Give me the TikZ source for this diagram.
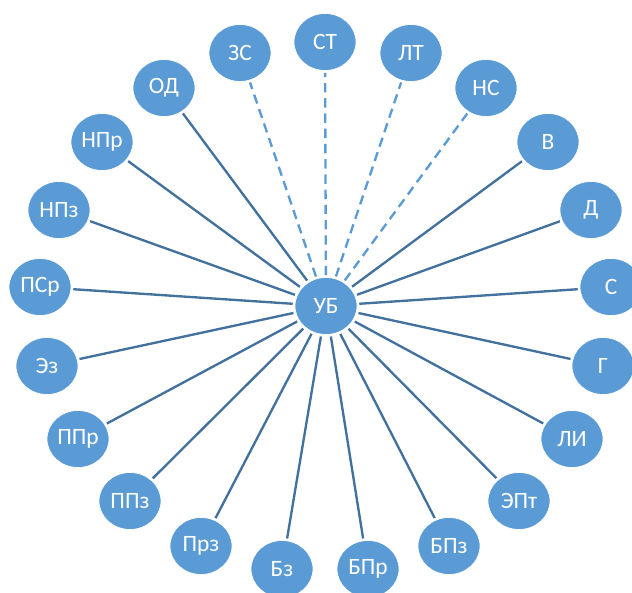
\documentclass[tikz,border=0pt]{standalone}
\usepackage{fontspec}
\setmainfont{Carlito}
\usepackage{tikz}
\usepackage{xcolor}
\usetikzlibrary{shapes.geometric}
\definecolor{blobfill}{HTML}{5B9BD5}
\definecolor{spoke}{HTML}{41719C}

\begin{document}
\begin{tikzpicture}[x=0.03cm,y=-0.03cm]
            \tikzstyle{every node}=[draw=white,line width=0.6pt,fill=blobfill,ellipse,minimum width=1.86cm,minimum height=1.71cm,inner sep=0pt,outer sep=2pt,text=white,font=\fontsize{20}{24}\selectfont]
            \tikzstyle{solidspoke}=[spoke,line width=2pt]
            \tikzstyle{dashspoke}=[blobfill,line width=2pt,dash pattern=on 8pt off 5pt]
            \clip (0,0) rectangle (632,593);
            \node (ub) at (326,306) {УБ};
            \node (st) at (325,42) {СТ};
            \node (zs) at (240,53) {ЗС};
            \node (lt) at (411,53) {ЛТ};
            \node (ns) at (486,88) {НС};
            \node (od) at (164,88) {ОД};
            \node (npr) at (102,142) {НПр};
            \node (v) at (548,142) {В};
            \node (npz) at (59,210) {НПз};
            \node (d) at (591,210) {Д};
            \node (psr) at (40,287) {ПСр};
            \node (s) at (611,287) {С};
            \node (ez) at (47,366) {Эз};
            \node (g) at (603,366) {Г};
            \node (ppr) at (78,439) {ППр};
            \node (li) at (572,439) {ЛИ};
            \node (ppz) at (130,501) {ППз};
            \node (ept) at (519,501) {ЭПт};
            \node (prz) at (201,546) {Прз};
            \node (bpz) at (449,546) {БПз};
            \node (bz) at (282,569) {Бз};
            \node (bpr) at (368,569) {БПр};
            \draw[dashspoke] (ub)--(zs);
            \draw[dashspoke] (ub)--(st);
            \draw[dashspoke] (ub)--(lt);
            \draw[dashspoke] (ub)--(ns);
            \draw[solidspoke] (ub)--(od);
            \draw[solidspoke] (ub)--(npr);
            \draw[solidspoke] (ub)--(npz);
            \draw[solidspoke] (ub)--(psr);
            \draw[solidspoke] (ub)--(ez);
            \draw[solidspoke] (ub)--(ppr);
            \draw[solidspoke] (ub)--(ppz);
            \draw[solidspoke] (ub)--(prz);
            \draw[solidspoke] (ub)--(bz);
            \draw[solidspoke] (ub)--(bpr);
            \draw[solidspoke] (ub)--(bpz);
            \draw[solidspoke] (ub)--(ept);
            \draw[solidspoke] (ub)--(li);
            \draw[solidspoke] (ub)--(g);
            \draw[solidspoke] (ub)--(s);
            \draw[solidspoke] (ub)--(d);
            \draw[solidspoke] (ub)--(v);
        \end{tikzpicture}
\end{document}
